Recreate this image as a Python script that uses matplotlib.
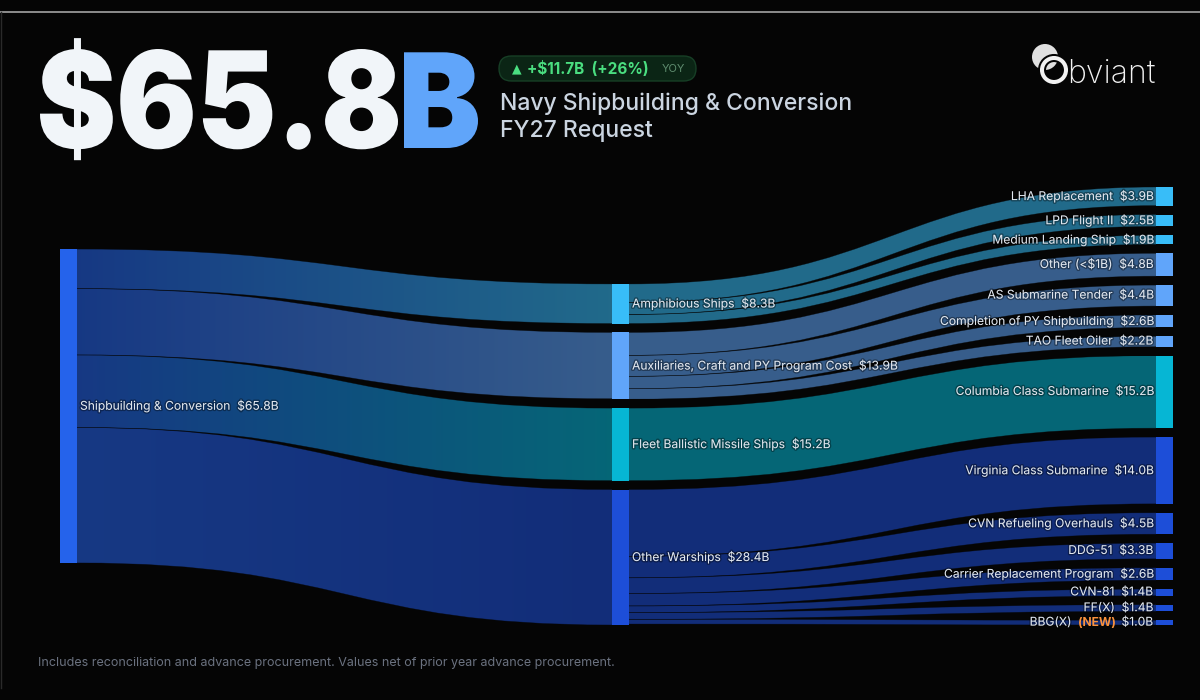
import matplotlib
matplotlib.use('Agg')
import matplotlib.pyplot as plt
import numpy as np
from matplotlib.path import Path
from matplotlib.patches import PathPatch, FancyBboxPatch, Circle, Rectangle
from matplotlib.textpath import TextPath
from matplotlib.font_manager import FontProperties
from matplotlib.transforms import Affine2D
from matplotlib.colors import to_rgb
import matplotlib.patheffects as pe

# data
root_name = 'Shipbuilding & Conversion'
root_value = 65.8
mid_names = ['Amphibious Ships', 'Auxiliaries, Craft and PY Program Cost',
             'Fleet Ballistic Missile Ships', 'Other Warships']
mid_values = [8.3, 13.9, 15.2, 28.4]
mid_colors = ['#38BDF8', '#60A5FA', '#06B6D4', '#1D4ED8']
leaf_names = ['LHA Replacement', 'LPD Flight II', 'Medium Landing Ship', 'Other (<$1B)',
              'AS Submarine Tender', 'Completion of PY Shipbuilding', 'TAO Fleet Oiler',
              'Columbia Class Submarine', 'Virginia Class Submarine', 'CVN Refueling Overhauls',
              'DDG-51', 'Carrier Replacement Program', 'CVN-81', 'FF(X)', 'BBG(X)']
leaf_values = [3.9, 2.5, 1.9, 4.8, 4.4, 2.6, 2.2, 15.2, 14.0, 4.5, 3.3, 2.6, 1.4, 1.4, 1.0]
leaf_parent = [0, 0, 0, 1, 1, 1, 1, 2, 3, 3, 3, 3, 3, 3, 3]
new_leaves = ['BBG(X)']
root_color = '#2563EB'
headline = '$65.8'
headline_unit = 'B'
change_text = '+$11.7B  (+26%)'
title_lines = ['Navy Shipbuilding & Conversion', 'FY27 Request']
footnote = 'Includes reconciliation and advance procurement. Values net of prior year advance procurement.'

BG = '#050505'
FONT = ['Inter', 'DejaVu Sans']
plt.rcParams['font.family'] = FONT

fig = plt.figure(figsize=(12, 7), dpi=100, facecolor=BG)
ax = fig.add_axes([0, 0, 1, 1])
ax.set_facecolor(BG)
ax.axis('off')


def fmt(v):
    return '$%.1fB' % v


def dim(c, a=0.55):
    return np.array(to_rgb(c)) * a + np.array(to_rgb(BG)) * (1 - a)


# sankey layout (pixel space)
W = 17
x_root, x_mid, x_leaf = 60, 612, 1156
y_top, y_bot = 187, 625
pad = 8.9

mid_out = [sum(v for v, p in zip(leaf_values, leaf_parent) if p == i) for i in range(len(mid_values))]
mid_size = [max(a, b) for a, b in zip(mid_values, mid_out)]
k = (y_bot - y_top - pad * (len(leaf_values) - 1)) / sum(leaf_values)

leaf_y = []
y = y_top
for v in leaf_values:
    leaf_y.append(y)
    y += v * k + pad

mid_y = []
y = y_bot - (k * sum(mid_size) + pad * (len(mid_size) - 1))
for v in mid_size:
    mid_y.append(y)
    y += v * k + pad

root_h = root_value * k
root_y = (y_top + y_bot) / 2 - root_h / 2


def draw_link(xs, ys, xt, yt, w, c0, c1):
    xm = (xs + xt) / 2
    verts = [(xs, ys), (xm, ys), (xm, yt), (xt, yt), (xt, yt + w),
             (xm, yt + w), (xm, ys + w), (xs, ys + w), (xs, ys)]
    codes = [Path.MOVETO, Path.CURVE4, Path.CURVE4, Path.CURVE4, Path.LINETO,
             Path.CURVE4, Path.CURVE4, Path.CURVE4, Path.CLOSEPOLY]
    patch = PathPatch(Path(verts, codes), facecolor='none', edgecolor='none')
    ax.add_patch(patch)
    t = np.linspace(0, 1, 256)[:, None]
    grad = (1 - t) * dim(c0) + t * dim(c1)
    lo, hi = min(ys, yt), max(ys, yt) + w
    ax.imshow(grad[None, :, :], extent=(xs, xt, hi, lo), aspect='auto',
              interpolation='bilinear', clip_path=patch, clip_on=True, zorder=1)
    # hairline edges between bands
    for a, b in [(ys, yt), (ys + w, yt + w)]:
        edge = Path([(xs, a), (xm, a), (xm, b), (xt, b)],
                    [Path.MOVETO, Path.CURVE4, Path.CURVE4, Path.CURVE4])
        ax.add_patch(PathPatch(edge, facecolor='none', edgecolor=BG, lw=0.4, alpha=0.55, zorder=2))


# root -> mid links
off = root_y
for i, v in enumerate(mid_values):
    draw_link(x_root + W, off, x_mid, mid_y[i], v * k, root_color, mid_colors[i])
    off += v * k

# mid -> leaf links
offs = list(mid_y)
for j, v in enumerate(leaf_values):
    p = leaf_parent[j]
    draw_link(x_mid + W, offs[p], x_leaf, leaf_y[j], v * k, mid_colors[p], mid_colors[p])
    offs[p] += v * k

# nodes
ax.add_patch(Rectangle((x_root, root_y), W, root_h, color=root_color, lw=0, zorder=3))
for i, v in enumerate(mid_size):
    ax.add_patch(Rectangle((x_mid, mid_y[i]), W, v * k, color=mid_colors[i], lw=0, zorder=3))
for j, v in enumerate(leaf_values):
    ax.add_patch(Rectangle((x_leaf, leaf_y[j]), W, v * k, color=mid_colors[leaf_parent[j]], lw=0, zorder=3))

# labels
halo = [pe.withStroke(linewidth=2, foreground='#000000', alpha=0.35)]
lab = dict(fontsize=8.7, color='#e2e8f0', va='center', zorder=5, parse_math=False, path_effects=halo)
ax.text(x_root + W + 3, root_y + root_h / 2, root_name + '  ' + fmt(root_value), ha='left', **lab)
for i, name in enumerate(mid_names):
    ax.text(x_mid + W + 3, mid_y[i] + mid_size[i] * k / 2, name + '  ' + fmt(mid_values[i]), ha='left', **lab)
for j, name in enumerate(leaf_names):
    yc = leaf_y[j] + leaf_values[j] * k / 2
    if name in new_leaves:
        t1 = ax.text(x_leaf - 3, yc, fmt(leaf_values[j]), ha='right', **lab)
        t2 = ax.annotate('(NEW)  ', xy=(0, 0.5), xycoords=t1, ha='right', va='center',
                         fontsize=8.7, color='#FB923C', fontweight='bold', zorder=5, parse_math=False)
        ax.annotate(name + '  ', xy=(0, 0.5), xycoords=t2, ha='right', va='center',
                    fontsize=8.7, color='#e2e8f0', zorder=5, parse_math=False, path_effects=halo)
    else:
        ax.text(x_leaf - 3, yc, name + '  ' + fmt(leaf_values[j]), ha='right', **lab)


# headline drawn as text paths fitted to a box
def fit_text(s, x0, x1, base, cap, color):
    fp = FontProperties(family='Inter', weight='black')
    tp = TextPath((0, 0), s, size=100, prop=fp)
    ref = TextPath((0, 0), '6', size=100, prop=fp).get_extents()
    ext = tp.get_extents()
    sy = cap / ref.y1
    sx = (x1 - x0) / ext.width
    tr = Affine2D().translate(-ext.x0, 0).scale(sx, -sy).translate(x0, base)
    ax.add_patch(PathPatch(tr.transform_path(tp), facecolor=color, edgecolor='none', zorder=5))


fit_text(headline, 40, 398, 148, 99, '#F1F5F9')
fit_text(headline_unit, 404, 478, 148, 97, '#60A5FA')

# change badge
ax.add_patch(FancyBboxPatch((499, 56), 197, 25, boxstyle='round,pad=0,rounding_size=12.5',
                            facecolor='#0B2515', edgecolor='#173F26', lw=1, zorder=4))
ax.text(517, 68.5, '▲', color='#4ADE80', fontsize=9, ha='center', va='center', zorder=5,
        family=['DejaVu Sans'])
ax.text(527, 68.5, change_text, color='#4ADE80', fontsize=11, fontweight='bold',
        ha='left', va='center', zorder=5, parse_math=False)
ax.text(662, 69, 'YOY', color='#5E8C6E', fontsize=8, ha='left', va='center', zorder=5)

ax.text(500, 104, title_lines[0], color='#CBD5E1', fontsize=16.5, fontweight='medium',
        ha='left', va='center', zorder=5)
ax.text(500, 131, title_lines[1], color='#CBD5E1', fontsize=16.5, fontweight='medium',
        ha='left', va='center', zorder=5)

# logo
ax.add_patch(Circle((1045, 57), 13, facecolor='#E0E0E0', edgecolor='none', zorder=5))
ax.add_patch(Circle((1054, 70), 12, facecolor='none', edgecolor=BG, lw=5.8, zorder=6))
ax.add_patch(Circle((1054, 70), 12, facecolor='none', edgecolor='#F2F2F2', lw=2.9, zorder=7))
ax.text(1067, 83, 'bviant', color='#F2F2F2', fontsize=23, fontweight='light',
        ha='left', va='baseline', zorder=5)

# footnote and frame
ax.text(38, 663, footnote, color='#6B7280', fontsize=9, ha='left', va='center', zorder=5)
ax.plot([0, 1200], [12, 12], color='#A3A3A3', lw=1.2, zorder=6)
ax.plot([0.5, 0.5], [12, 688], color='#2A2A2A', lw=1, zorder=6)

ax.set_xlim(0, 1200)
ax.set_ylim(700, 0)
fig.savefig('out.png', dpi=100, facecolor=BG)
